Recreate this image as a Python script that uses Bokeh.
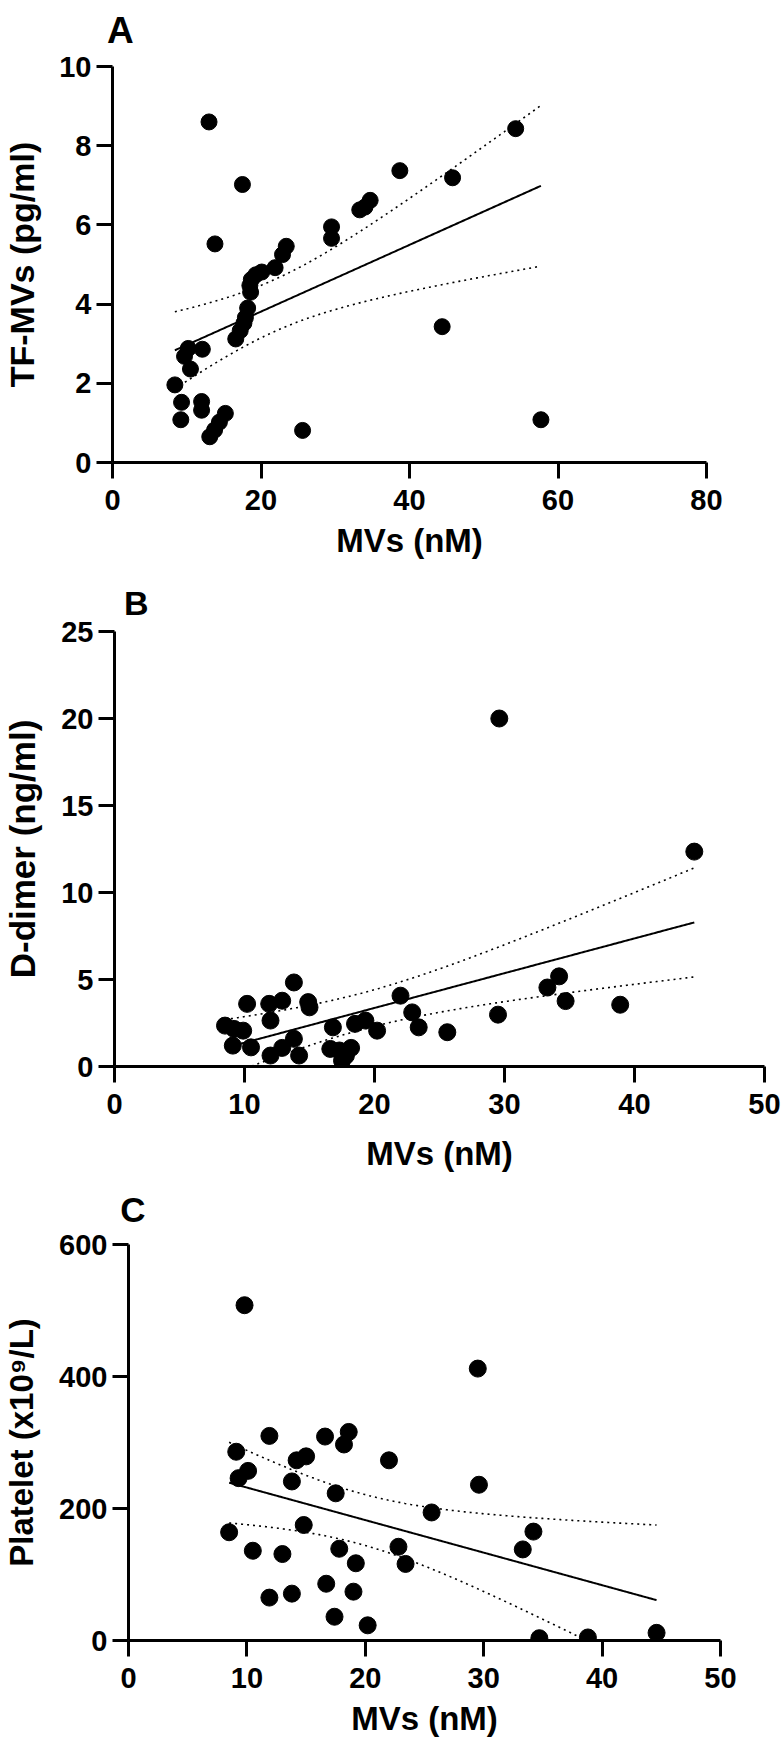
import numpy as np
from bokeh.plotting import figure
from bokeh.models import Range1d, FixedTicker, LinearAxis
from bokeh.embed import file_html
from bokeh.resources import INLINE

# ---------------- data ----------------
a_mvs = [13.0, 54.3, 38.7, 45.8, 17.5, 33.3, 34.0, 34.7, 29.5, 29.5,
         13.8, 23.4, 22.9, 21.9, 20.1, 19.3, 18.7, 18.5, 18.6, 18.2,
         17.9, 17.7, 17.2, 16.6, 44.4, 10.2, 9.7, 10.5, 12.1, 8.4,
         9.3, 9.2, 12.0, 12.0, 15.2, 14.4, 13.75, 13.1, 25.6, 57.7]
a_tf = [8.60, 8.43, 7.37, 7.19, 7.02, 6.38, 6.45, 6.62, 5.95, 5.66,
        5.52, 5.46, 5.25, 4.92, 4.81, 4.74, 4.62, 4.47, 4.30, 3.90,
        3.66, 3.52, 3.33, 3.12, 3.43, 2.88, 2.68, 2.36, 2.86, 1.96,
        1.52, 1.08, 1.54, 1.32, 1.24, 1.02, 0.82, 0.65, 0.81, 1.08]

b_mvs = [29.6, 44.6, 34.2, 33.3, 34.7, 38.9, 29.5, 25.6, 22.0, 22.9,
         23.4, 20.2, 19.3, 18.5, 16.8, 16.6, 17.3, 17.5, 17.8, 18.2,
         13.8, 14.9, 15.0, 12.9, 11.9, 12.0, 10.2, 8.5, 9.2, 9.9,
         9.1, 10.5, 12.0, 12.9, 13.8, 14.2]
b_ddimer = [20.0, 12.35, 5.18, 4.54, 3.76, 3.55, 2.98, 1.97, 4.07, 3.11,
            2.25, 2.06, 2.64, 2.45, 2.25, 1.01, 0.92, 0.34, 0.62, 1.07,
            4.83, 3.70, 3.40, 3.78, 3.60, 2.64, 3.60, 2.35, 2.16, 2.06,
            1.20, 1.10, 0.63, 1.07, 1.59, 0.63]

c_mvs = [9.8, 29.5, 11.9, 16.6, 18.6, 18.2, 9.1, 14.2, 15.0, 22.0,
         10.1, 9.3, 13.8, 17.5, 29.6, 25.6, 14.8, 8.5, 34.2, 33.3,
         22.8, 10.5, 13.0, 17.8, 19.2, 23.4, 16.7, 11.9, 13.8, 19.0,
         17.4, 20.2, 34.7, 38.8, 44.6]
c_platelet = [508, 412, 310, 309, 316, 297, 286, 273, 279, 273,
              257, 246, 241, 223, 236, 194, 175, 164, 165, 138,
              142, 136, 131, 139, 117, 116, 86, 65, 71, 74,
              36, 23, 3.5, 4.6, 11.6]

a_xticks = [0, 20, 40, 60, 80]
a_yticks = [0, 2, 4, 6, 8, 10]
b_xticks = [0, 10, 20, 30, 40, 50]
b_yticks = [0, 5, 10, 15, 20, 25]
c_xticks = [0, 10, 20, 30, 40, 50]
c_yticks = [0, 200, 400, 600]

x_title = "MVs (nM)"
a_title = "TF-MVs (pg/ml)"
b_title = "D-dimer (ng/ml)"
c_title = "Platelet (x10\u2079/L)"

FONT = "Liberation Sans"
W = 784


def t975(df):
    z = 1.959964
    return z + (z**3 + z) / (4 * df) + (5 * z**5 + 16 * z**3 + 3 * z) / (96 * df**2)


def fit_bands(x, y, n_pts=300):
    x = np.asarray(x, float)
    y = np.asarray(y, float)
    n = len(x)
    slope, intercept = np.polyfit(x, y, 1)
    resid = y - (slope * x + intercept)
    s = np.sqrt(np.sum(resid**2) / (n - 2))
    xm = x.mean()
    sxx = np.sum((x - xm) ** 2)
    xs = np.linspace(x.min(), x.max(), n_pts)
    ys = slope * xs + intercept
    half = t975(n - 2) * s * np.sqrt(1.0 / n + (xs - xm) ** 2 / sxx)
    lo = ys - half
    hi = ys + half
    lo = np.where(lo < 0, np.nan, lo)
    return xs, ys, lo, hi


def panel(x, y, xticks, yticks, dot, fig_h, top, left, fw, fh,
          letter, letter_x, letter_size, letter_standoff,
          ytitle, ytitle_size, ytitle_standoff, xtitle_standoff):
    xmax = xticks[-1]
    ymax = yticks[-1]
    p = figure(width=W, height=fig_h,
               x_range=Range1d(0, xmax), y_range=Range1d(0, ymax),
               output_backend="svg", toolbar_location=None,
               min_border_left=left, min_border_right=W - left - fw,
               min_border_top=top, min_border_bottom=fig_h - top - fh)
    p.outline_line_color = None
    p.grid.visible = False
    p.background_fill_color = "white"
    p.border_fill_color = "white"

    p.xaxis.ticker = FixedTicker(ticks=xticks)
    p.yaxis.ticker = FixedTicker(ticks=yticks)
    for ax in (p.xaxis, p.yaxis):
        ax.axis_line_width = 3
        ax.axis_line_color = "black"
        ax.major_tick_line_width = 3
        ax.major_tick_line_color = "black"
        ax.major_tick_out = 16
        ax.major_tick_in = 0
        ax.minor_tick_line_color = None
        ax.major_label_text_font = FONT
        ax.major_label_text_font_style = "bold"
        ax.major_label_text_font_size = "29px"
        ax.major_label_text_color = "black"
        ax.axis_label_text_font = FONT
        ax.axis_label_text_font_style = "bold"
        ax.axis_label_text_color = "black"
    p.xaxis.major_label_standoff = 11
    p.yaxis.major_label_standoff = 5
    p.xaxis.axis_label = x_title
    p.xaxis.axis_label_text_font_size = "33px"
    p.xaxis.axis_label_standoff = xtitle_standoff
    p.yaxis.axis_label = ytitle
    p.yaxis.axis_label_text_font_size = f"{ytitle_size}px"
    p.yaxis.axis_label_standoff = ytitle_standoff

    # panel letter, drawn as the only label of a bare axis above the frame
    lab = LinearAxis(ticker=FixedTicker(ticks=[letter_x]),
                     major_label_overrides={letter_x: letter})
    lab.axis_line_color = None
    lab.major_tick_line_color = None
    lab.minor_tick_line_color = None
    lab.major_tick_out = 0
    lab.major_tick_in = 0
    lab.major_label_standoff = letter_standoff
    lab.major_label_text_font = FONT
    lab.major_label_text_font_style = "bold"
    lab.major_label_text_font_size = f"{letter_size}px"
    lab.major_label_text_color = "black"
    p.add_layout(lab, "above")

    xs, ys, lo, hi = fit_bands(x, y)
    p.line(xs, hi, line_color="black", line_width=1.6, line_dash="2 4")
    p.line(xs, lo, line_color="black", line_width=1.6, line_dash="2 4")
    p.line(xs, ys, line_color="black", line_width=2)
    p.scatter(x, y, size=dot, marker="circle", fill_color="black", line_color="black")
    return p


pa = panel(a_mvs, a_tf, a_xticks, a_yticks, 16, 576, 66, 111, 595, 396,
           "A", 1.05, 37, 16, a_title, 34, 15, 9)
pb = panel(b_mvs, b_ddimer, b_xticks, b_yticks, 17, 608, 55, 110, 654, 435,
           "B", 1.67, 34, 10, b_title, 35, 16, 18)
pc = panel(c_mvs, c_platelet, c_xticks, c_yticks, 17, 564, 60, 128, 592, 396,
           "C", 0.38, 35, 16, c_title, 33, 16, 9)

# separate roots, stacked top to bottom (a Column would align the three frames)
open("out.html", "w").write(file_html([pa, pb, pc], INLINE))
